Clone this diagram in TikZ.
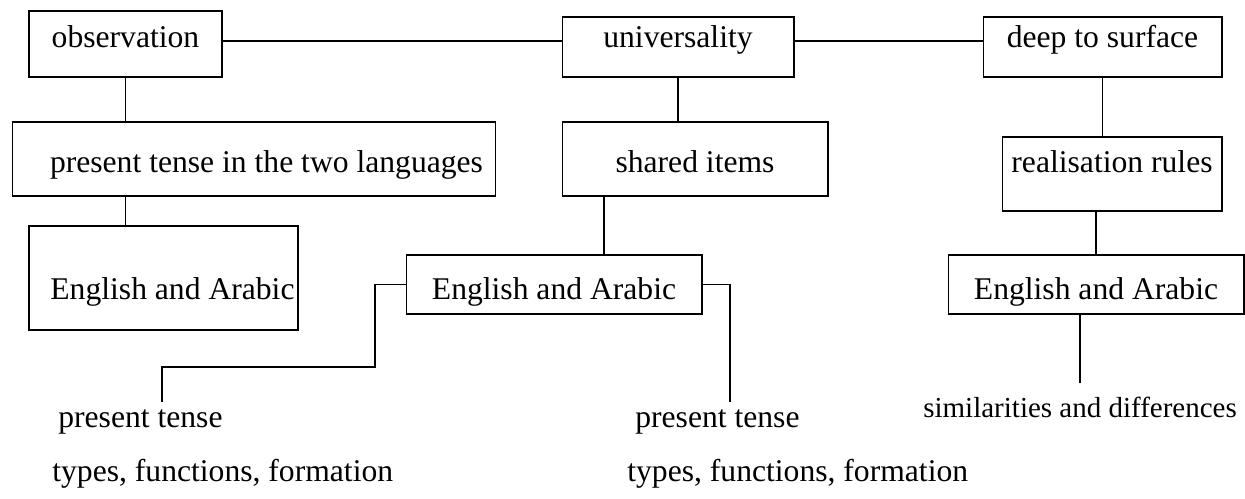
\documentclass[tikz,border=0pt]{standalone}
\usepackage{fontspec}
\setmainfont{Liberation Serif}
\usetikzlibrary{positioning}

\begin{document}
\begin{tikzpicture}[x=0.02cm, y=-0.02cm,
concept/.style={rectangle, draw, line width=0.6pt, inner sep=0pt, font=\fontsize{18}{22}\selectfont},
note/.style={anchor=base west, inner sep=0pt, font=\fontsize{18}{22}\selectfont},
link/.style={line width=0.6pt}
]
\useasboundingbox (0,0) rectangle (1245,499);
\node[concept, minimum width=3.86cm, minimum height=1.32cm, text height=0.44cm, text depth=0.28cm] (obs) at (125.5,44) {observation};
\node[concept, minimum width=4.64cm, minimum height=1.2cm, text height=0.44cm, text depth=0.4cm] (univ) at (678,47) {universality};
\node[concept, minimum width=4.78cm, minimum height=1.2cm, text height=0.44cm, text depth=0.4cm] (deep) at (1102.5,47) {deep to surface};
\node[concept, minimum width=9.68cm, minimum height=1.48cm, text height=0.7cm, text depth=0.14cm] (present) at (254,159) {\hspace*{0.5cm}present tense in the two languages};
\node[concept, minimum width=5.32cm, minimum height=1.48cm, text height=0.7cm, text depth=0.14cm] (shared) at (695,159) {shared items};
\node[concept, minimum width=4.4cm, minimum height=1.48cm, text height=0.44cm, text depth=0.48cm] (real) at (1112,174) {realisation rules};
\node[concept, minimum width=5.38cm, minimum height=2.08cm, text height=1.02cm, text depth=0.14cm] (engL) at (163.5,278) {\hspace*{0.36cm}English and Arabic};
\node[concept, minimum width=5.92cm, minimum height=1.18cm, text height=0.76cm, text depth=0.14cm] (engM) at (554,284.5) {English and Arabic};
\node[concept, minimum width=5.92cm, minimum height=1.18cm, text height=0.76cm, text depth=0.14cm] (engR) at (1096,284.5) {English and Arabic};
\node[note] (ptL) at (58,428) {present tense};
\node[note] (typesL) at (52,482) {types, functions, formation};
\node[note] (ptM) at (635,428) {present tense};
\node[note] (typesM) at (627,482) {types, functions, formation};
\node[note, font=\fontsize{16.5}{20}\selectfont] (sim) at (923,418) {similarities and differences};
\coordinate (kinkL) at (375,367);
\coordinate (dropL) at (162,402);
\coordinate (dropR) at (730,402);
\coordinate (dropS) at (1080,383);
% top row
\draw[link] ([yshift=0.06cm]obs.east) -- ([yshift=0.06cm]obs.east -| univ.west);
\draw[link] ([yshift=0.12cm]univ.east) -- ([yshift=0.12cm]univ.east -| deep.west);
% left branch
\draw[link] (obs.south) -- (obs.south |- present.north);
\draw[link] (present.south -| obs.south) -- (engL.north -| obs.south);
% middle branch
\draw[link] (univ.south) -- (univ.south |- shared.north);
\draw[link] ([xshift=1cm]engM.north) -- ([xshift=1cm]engM.north |- shared.south);
\draw[link] (engM.west) -| (kinkL) -| (dropL);
\draw[link] (engM.east) -| (dropR);
% right branch
\draw[link] (deep.south) -- (deep.south |- real.north);
\draw[link] (engR.north) -- (engR.north |- real.south);
\draw[link] (engR.south -| dropS) -- (dropS);
\end{tikzpicture}
\end{document}
